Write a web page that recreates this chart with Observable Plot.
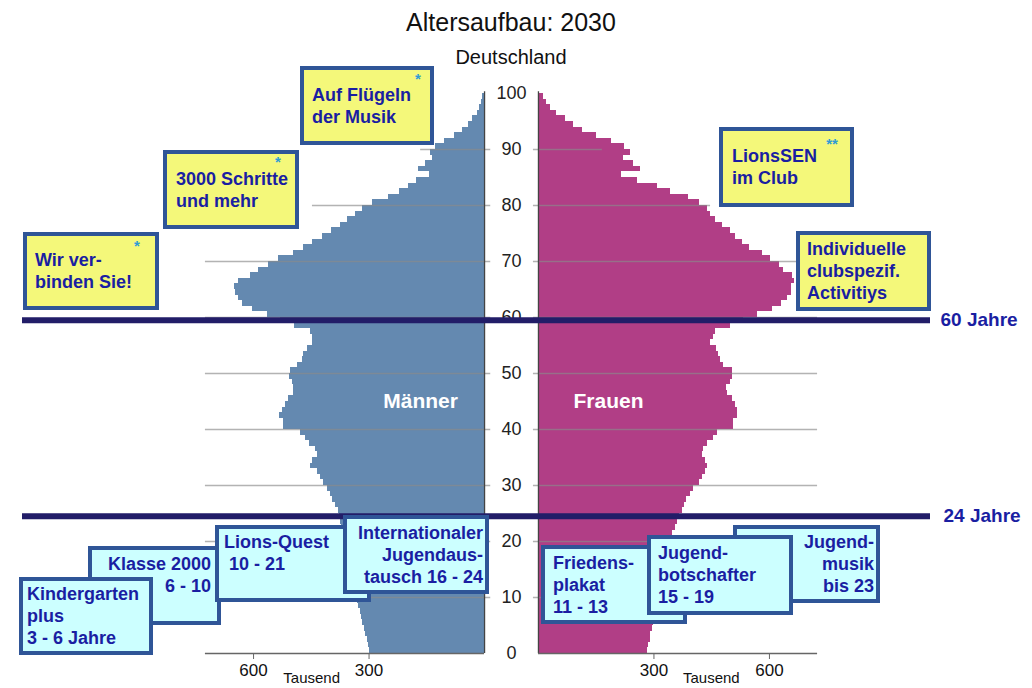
<!DOCTYPE html>
<html>
<head>
<meta charset="utf-8">
<script src="https://cdn.jsdelivr.net/npm/d3@7"></script>
<script src="https://cdn.jsdelivr.net/npm/@observablehq/plot@0.6"></script>
<style>
  body { margin: 0; background: #fff; font-family: "Liberation Sans", Arial, sans-serif; }
  #wrap { position: relative; width: 1032px; height: 688px; overflow: hidden; }
  #chart { position: absolute; left: 0; top: 0; }
  .ttl { position: absolute; left: 0; width: 1022px; text-align: center; color: #111; white-space: nowrap; }
  .box { position: absolute; box-sizing: border-box; border: 4px solid #2f5597; color: #1a1ea2;
         font-weight: bold; font-size: 18px; line-height: 22px; display: flex; align-items: center; }
  .box > div { white-space: pre; width: 100%; }
  .yellow { background: #f4f87a; }
  .cyan { background: #ccffff; }
  .star { position: absolute; color: #2f9bd6; font-size: 15px; font-weight: bold; line-height: 1; transform: translateX(-50%); }
</style>
</head>
<body>
<div id="wrap">
  <div id="chart"></div>
</div>
<script>
// ---------------- data ----------------
const ages = d3.range(0, 100);
// Männer, Tausend, Alter 0..99
const men = [300,302,305,308,312,316,320,323,327,331,
             335,340,345,350,354,357,360,362,364,366,
             368,370,372,374,376,379,388,396,400,407,
             418,427,435,451,446,435,440,454,466,479,
             522,522,532,526,518,509,496,496,500,506,
             505,487,474,470,461,448,446,451,493,530,
             565,604,629,639,647,649,639,609,587,561,
             535,496,470,446,422,398,374,357,335,318,
             292,250,221,198,178,143,172,153,134,140,
             127,103,77,58,42,32,19,12,8,6];
// Frauen, Tausend, Alter 0..99
const women = [282,286,290,292,297,300,304,308,312,316,
               320,324,328,331,334,336,338,340,341,342,
               344,349,355,360,367,373,379,384,394,403,
               419,425,433,438,433,425,429,440,455,466,
               507,507,516,517,512,503,490,488,499,503,
               503,481,474,468,462,448,455,460,499,532,
               568,607,630,646,656,656,665,659,637,627,
               604,581,549,531,511,498,479,459,448,438,
               419,390,342,310,257,217,266,247,221,238,
               223,191,150,115,91,69,48,30,20,13];
const ageTicks = [0,10,20,30,40,50,60,70,80,90,100];
const gridAges = [10,20,30,40,50,60,70,80,90];
const gridReach = [725,725,725,725,725,725,725,447,166];
const valueTicks = [300, 600];
const valueMax = 725;
const markerAges = [59.5, 24.5];
const markerLabels = ["60 Jahre", "24 Jahre"];
const sexLabels = ["Männer", "Frauen"];
const sexLabelPos = [166, 182];
const unitLabel = "Tausend";
const title = "Altersaufbau: 2030";
const subtitle = "Deutschland";

// ---------------- layout ----------------
const K = 300 / 115.5;          // data units per pixel
const G = 70;                   // half gap between the two panels (data units)
const rows = ages.map((a, i) => ({age: a, m: men[i], f: women[i]}));
const grid = gridAges.map((a, i) => ({age: a, reach: gridReach[i]}));
const colM = "#6489b0", colF = "#b13e86";
const xRight = (930 - 511) * K;

const chart = Plot.plot({
  width: 1032, height: 688,
  marginTop: 93, marginBottom: 35, marginLeft: 22, marginRight: 102,
  x: {domain: [-(511 - 22) * K, xRight], axis: null},
  y: {domain: [0, 100], axis: null},
  style: {fontFamily: "'Liberation Sans', Arial, sans-serif", background: "transparent", overflow: "visible"},
  marks: [
    Plot.rect(rows, {x1: -G, x2: d => -G - d.m, y1: "age", y2: d => d.age + 1, fill: colM, shapeRendering: "crispEdges"}),
    Plot.rect(rows, {x1: G, x2: d => G + d.f, y1: "age", y2: d => d.age + 1, fill: colF, shapeRendering: "crispEdges"}),
    Plot.ruleY(grid, {y: "age", x1: d => -G - d.reach, x2: -G + 16, stroke: "#8a8a8a", strokeOpacity: 0.65, strokeWidth: 1.3}),
    Plot.ruleY(grid, {y: "age", x1: G - 13, x2: d => G + d.reach, stroke: "#8a8a8a", strokeOpacity: 0.65, strokeWidth: 1.3}),
    Plot.ruleX([-G, G], {y1: 0, y2: 100.3, stroke: "#444", strokeWidth: 1.3}),
    Plot.ruleY([0], {x1: -G - valueMax, x2: -G, stroke: "#666", strokeWidth: 1.5}),
    Plot.ruleY([0], {x1: G, x2: G + valueMax, stroke: "#666", strokeWidth: 1.5}),
    Plot.axisX([...valueTicks.map(v => -G - v), ...valueTicks.map(v => G + v)], {
      anchor: "bottom", tickFormat: d => String(Math.round(Math.abs(d) - G)),
      tickSize: 6, tickPadding: 4, fontSize: 17, stroke: "#666", fill: "#111", label: null
    }),
    Plot.text([-1, 1], {x: d => d * (G + 449), y: 0, dy: 25, text: () => unitLabel, fontSize: 15, fill: "#111"}),
    Plot.text(ageTicks, {x: 0, y: d => d, text: d => String(d), fontSize: 18, fill: "#222"}),
    Plot.text([0, 1], {x: i => (i === 0 ? -1 : 1) * (G + sexLabelPos[i]), y: 45, text: i => sexLabels[i],
      fontSize: 21, fontWeight: "bold", fill: "#fff"}),
    Plot.ruleY(markerAges, {stroke: "#221d68", strokeWidth: 6}),
    Plot.text([0], {x: xRight, y: markerAges[0], text: () => markerLabels[0], dx: 10,
      textAnchor: "start", fontSize: 19, fontWeight: "bold", fill: "#1a1ea2"}),
    Plot.text([1], {x: xRight, y: markerAges[1], text: () => markerLabels[1], dx: 13,
      textAnchor: "start", fontSize: 19, fontWeight: "bold", fill: "#1a1ea2"})
  ]
});
document.getElementById("chart").appendChild(chart);

// ---------------- titles & annotation boxes ----------------
const wrap = document.getElementById("wrap");
function addTitle(text, top, size) {
  const d = document.createElement("div");
  d.className = "ttl"; d.textContent = text;
  d.style.top = top + "px"; d.style.fontSize = size + "px"; d.style.lineHeight = size + "px";
  wrap.appendChild(d);
}
addTitle(title, 10, 25);
addTitle(subtitle, 47, 20);

const boxes = [
  {t: "Wir ver-\nbinden Sie!", c: "yellow", x: 23, y: 232, w: 136, h: 78, pl: 8, a: "left", star: "*", sx: 137, sy: 238},
  {t: "3000 Schritte\nund mehr", c: "yellow", x: 163, y: 150, w: 136, h: 79, pl: 9, a: "left", star: "*", sx: 278, sy: 154},
  {t: "Auf Flügeln\nder Musik", c: "yellow", x: 300, y: 66, w: 134, h: 79, pl: 8, a: "left", star: "*", sx: 418, sy: 71},
  {t: "LionsSEN\nim Club", c: "yellow", x: 719, y: 127, w: 135, h: 80, pl: 9, a: "left", star: "**", sx: 832, sy: 136},
  {t: "Individuelle\nclubspezif.\nActivitiys", c: "yellow", x: 796, y: 231, w: 135, h: 80, pl: 7, a: "left"},
  {t: "Klasse 2000\n6 - 10\n ", c: "cyan", x: 88, y: 546, w: 133, h: 79, pr: 6, a: "right"},
  {t: "Kindergarten\nplus\n3 - 6 Jahre", c: "cyan", x: 19, y: 577, w: 134, h: 78, pl: 4, a: "left"},
  {t: "Lions-Quest\n 10 - 21\n ", c: "cyan", x: 215, y: 525, w: 156, h: 77, pl: 5, a: "left"},
  {t: "Internationaler\nJugendaus-\ntausch 16 - 24", c: "cyan", x: 343, y: 515, w: 146, h: 79, pr: 2, a: "right"},
  {t: "Friedens-\nplakat\n11 - 13", c: "cyan", x: 541, y: 545, w: 146, h: 79, pl: 8, a: "left"},
  {t: "Jugend-\nmusik\nbis 23", c: "cyan", x: 733, y: 525, w: 147, h: 78, pr: 2, a: "right"},
  {t: "Jugend-\nbotschafter\n15 - 19", c: "cyan", x: 647, y: 535, w: 146, h: 80, pl: 7, a: "left"}
];
boxes.forEach(b => {
  const d = document.createElement("div");
  d.className = "box " + b.c;
  Object.assign(d.style, {left: b.x + "px", top: b.y + "px", width: b.w + "px", height: b.h + "px",
    paddingLeft: (b.pl || 0) + "px", paddingRight: (b.pr || 0) + "px"});
  const inner = document.createElement("div");
  inner.textContent = b.t; inner.style.textAlign = b.a;
  d.appendChild(inner);
  wrap.appendChild(d);
  if (b.star) {
    const s = document.createElement("div");
    s.className = "star"; s.textContent = b.star;
    s.style.left = b.sx + "px"; s.style.top = b.sy + "px";
    wrap.appendChild(s);
  }
});
</script>
</body>
</html>
